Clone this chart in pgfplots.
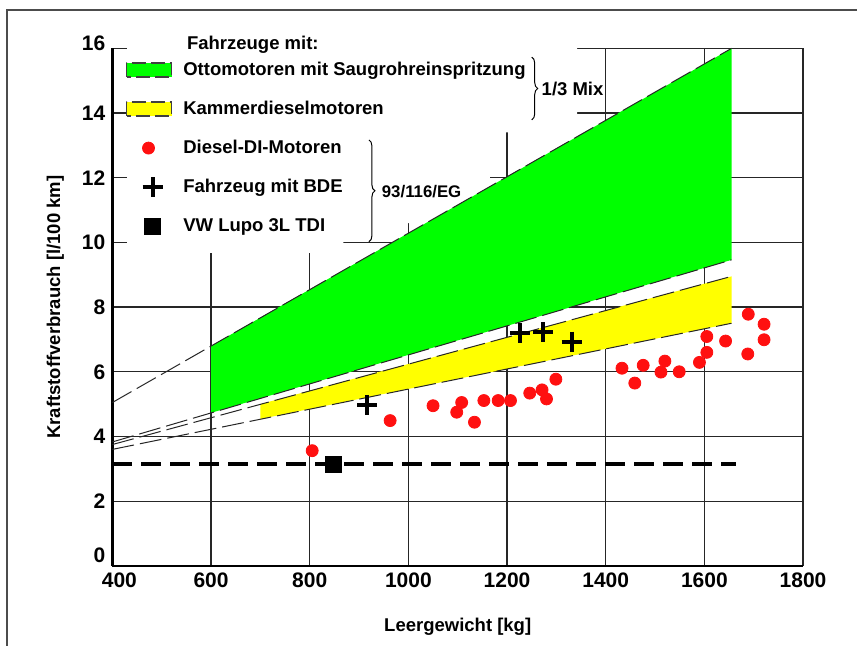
\documentclass[border=0pt]{standalone}
\usepackage{fontspec}
\setmainfont{Liberation Sans}
\usepackage{pgfplots}
\pgfplotsset{compat=1.18}
\usetikzlibrary{decorations.pathreplacing}
\definecolor{bandgreen}{RGB}{0,255,0}
\definecolor{bandyellow}{RGB}{255,255,0}
\definecolor{dotred}{RGB}{255,16,16}
\tikzset{thindash/.style={black!85, line width=0.5pt, dash pattern=on 11pt off 3pt}}
\newcommand{\lblfont}{\fontsize{9.25}{11}\selectfont\bfseries}
\pgfplotsset{
  markleg/.style={legend image code/.code={\path[draw=none,fill=none] (0pt,-5pt) rectangle (22.5pt,5pt); \draw[##1] plot coordinates {(#1,0pt)};}},
  boxleg/.style={legend image code/.code={\draw[fill=#1, draw=black!75, dash pattern=on 7pt off 2.5pt, line width=0.8pt] (0pt,-3.5pt) rectangle (22.5pt,3.5pt);}},
}
\begin{document}
\begin{tikzpicture}
\begin{axis}[
  scale only axis, width=345.3pt, height=258.7pt,
  xmin=400, xmax=1800, ymin=0, ymax=16,
  xtick={400,600,...,1800}, ytick={0,2,...,16},
  xticklabels={\hspace*{7pt}400,600,800,1000,1200,1400,1600,1800},
  yticklabels={\raisebox{11pt}{0},2,4,6,8,10,12,14,\raisebox{5pt}{16}},
  grid=major, major grid style={line width=0.6pt, black!85},
  major tick length=0pt,
  axis x line=bottom, axis y line=left, axis line style={-, line width=1.2pt},
  scaled ticks=false,
  /pgf/number format/1000 sep={}, /pgf/number format/assume math mode=true,
  tick label style={font=\fontsize{10.5}{12}\selectfont\bfseries},
  xlabel={Leergewicht [kg]}, ylabel={Kraftstoffverbrauch [l/100 km]},
  every axis x label/.style={at={(axis description cs:0.5,-0.118)}, anchor=center, font=\lblfont},
  every axis y label/.style={at={(axis description cs:-0.0825,0.5)}, rotate=90, anchor=center, font=\lblfont},
  clip=false,
  legend style={at={(axis cs:427,15.70)}, anchor=north west, draw=none, fill=none,
    inner sep=0pt, outer sep=0pt, row sep=7.5pt, column sep=5.5pt,
    font=\lblfont,
    nodes={inner sep=0pt, minimum height=12pt}},
  legend cell align=left,
]
% mask behind legend
\fill[white] (axis cs:430,16.3) -- (axis cs:1342,16.3) -- (axis cs:1342,13.4) -- (axis cs:1165,13.4)
  -- (axis cs:1165,10.6) -- (axis cs:868,10.6) -- (axis cs:868,9.68) -- (axis cs:430,9.68) -- cycle;

\addplot[fill=bandgreen, draw=none, boxleg=bandgreen]
  coordinates {(600,6.8) (1655,16.0) (1655,9.46) (600,4.73) (600,6.8)};
\addlegendentry{Ottomotoren mit Saugrohreinspritzung}

\addplot[fill=bandyellow, draw=none, boxleg=bandyellow]
  coordinates {(700,5.0) (1655,8.95) (1655,7.5) (700,4.54) (700,5.0)};
\addlegendentry{Kammerdieselmotoren}

% boundary lines
\addplot[forget plot, thindash] coordinates {(400,5.05) (1655,16.0)};
\addplot[forget plot, thindash] coordinates {(400,3.83) (1655,9.46)};
\addplot[forget plot, thindash] coordinates {(400,3.75) (1655,8.95)};
\addplot[forget plot, thindash] coordinates {(400,3.60) (1655,7.50)};
% Lupo level
\addplot[forget plot, black, line width=2pt, dash pattern=on 10pt off 4.5pt] coordinates {(400,3.15) (1665,3.15)};

\addplot[only marks, mark=*, mark size=3pt, color=dotred, markleg=11pt]
  coordinates {
  (805,3.56) (963,4.49) (1050,4.95) (1098,4.75) (1108,5.05) (1134,4.44)
  (1153,5.11) (1182,5.11) (1207,5.11) (1246,5.34) (1271,5.44) (1280,5.16)
  (1299,5.77) (1433,6.11) (1459,5.65) (1476,6.20) (1512,5.99) (1520,6.33)
  (1549,6.00) (1590,6.29) (1605,6.60) (1605,7.09) (1643,6.95) (1688,6.55)
  (1689,7.78) (1721,7.47) (1721,6.99)};
\addlegendentry{Diesel-DI-Motoren}

\addplot[only marks, mark=+, mark size=5pt, line width=2pt, color=black, markleg=13pt]
  coordinates {(917,4.98) (1226,7.19) (1273,7.22) (1331,6.93)};
\addlegendentry{Fahrzeug mit BDE}

\addplot[only marks, mark=square*, mark size=4pt, color=black, markleg=13pt]
  coordinates {(849,3.15)};
\addlegendentry{VW Lupo 3L TDI}

% annotations
\node[anchor=west, font=\lblfont] at (axis cs:537,16.12) {Fahrzeuge mit:};
\draw[decorate, decoration={brace, amplitude=3pt}, line width=0.5pt] (axis cs:1250,15.73) -- (axis cs:1250,13.79);
\node[anchor=west, font=\lblfont] at (axis cs:1256,14.74) {1/3 Mix};
\draw[decorate, decoration={brace, amplitude=3pt}, line width=0.5pt] (axis cs:920,13.17) -- (axis cs:920,10.02);
\node[anchor=west, font=\fontsize{8.4}{10}\selectfont\bfseries] at (axis cs:932,11.56) {93/116/EG};

% page frame
\draw[line width=0.75pt, black!70] (axis cs:186.3,-3) -- (axis cs:186.3,17.19) -- (axis cs:1920,17.19);
\coordinate (bbl) at (axis cs:172.15,-2.473);
\coordinate (btr) at (axis cs:1909.4,17.496);
\end{axis}
\pgfresetboundingbox
\path[use as bounding box] (bbl) rectangle (btr);
\end{tikzpicture}
\end{document}
